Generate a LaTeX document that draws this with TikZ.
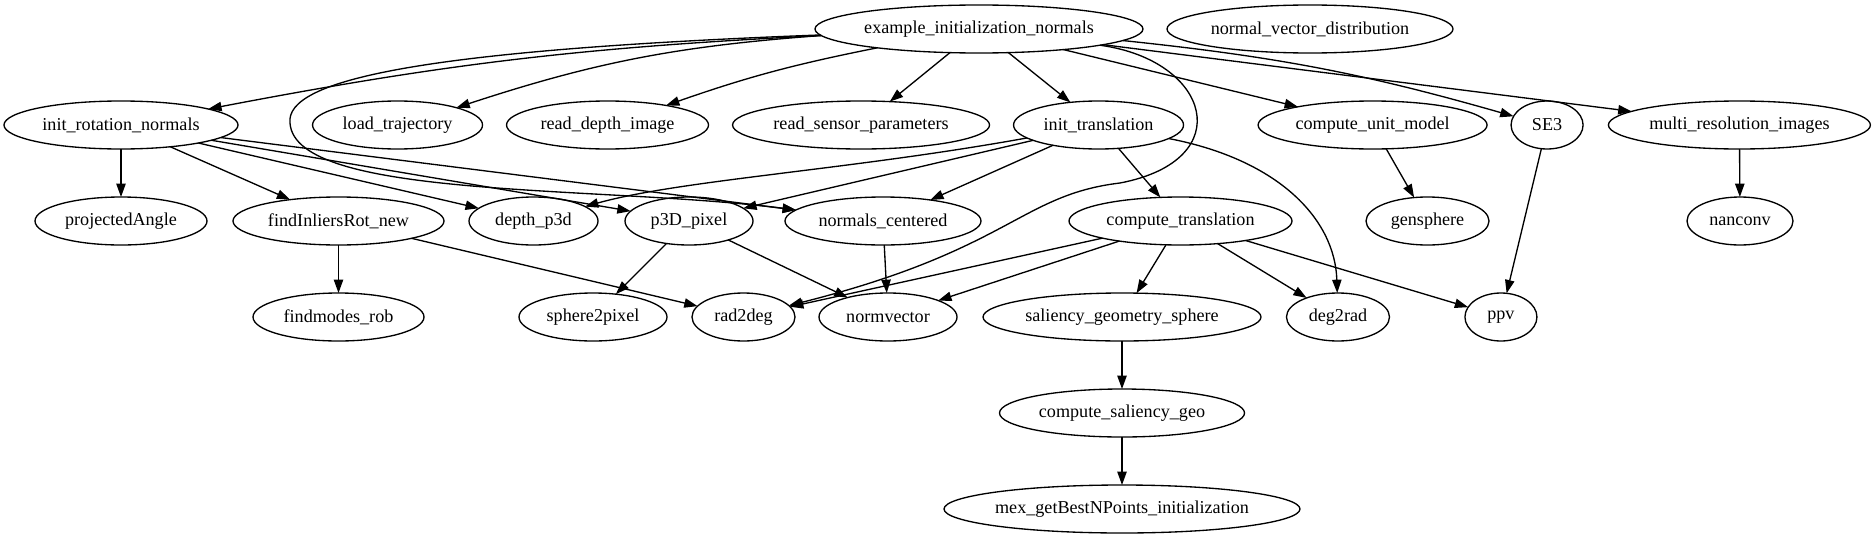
\documentclass[tikz,border=0pt]{standalone}
\usepackage{fontspec}
\setmainfont{Liberation Serif}
\usepackage{tikz}
\usetikzlibrary{arrows.meta,positioning,shapes.geometric}

\begin{document}
\begin{tikzpicture}[
    x=0.75pt, y=-0.75pt,
    node distance=36pt and 18pt,
    fn/.style={draw, ellipse, line width=1pt, inner sep=0pt, outer sep=0pt, minimum height=36pt, minimum width=#1,
      font=\fontsize{13.6pt}{16pt}\selectfont,
      execute at begin node=\hbox to 0pt\bgroup\hss, execute at end node=\hss\egroup},
    arr/.style={-{Triangle[length=10pt, width=7pt]}, line width=1pt}
]
\useasboundingbox (0,0) rectangle (1876,539);

\node[fn=246pt] (exinit) at (979,29) {example\_initialization\_normals};
\node[fn=214.5pt, right=of exinit] (nvd) {normal\_vector\_distribution};

\node[fn=175.5pt] (initrot) at (121,125) {init\_rotation\_normals};
\node[fn=127.5pt, right=55.9pt of initrot] (loadtraj) {load\_trajectory};
\node[fn=151.5pt, right=of loadtraj] (readdepth) {read\_depth\_image};
\node[fn=192.75pt, right=of readdepth] (readsensor) {read\_sensor\_parameters};
\node[fn=127.5pt, right=of readsensor] (inittrans) {init\_translation};
\node[fn=171.75pt, right=55.9pt of inittrans] (cum) {compute\_unit\_model};
\node[fn=54pt, right=of cum] (se3) {SE3};
\node[fn=196.5pt, right=19pt of se3] (mri) {multi\_resolution\_images};

\node[fn=129pt, below=of initrot] (projangle) {projectedAngle};
\node[fn=158.25pt, right=19.5pt of projangle] (findinl) {findInliersRot\_new};
\node[fn=96.75pt, right=18.75pt of findinl] (depthp3d) {depth\_p3d};
\node[fn=96pt, right=20.25pt of depthp3d] (p3dpix) {p3D\_pixel};
\node[fn=147pt, right=24pt of p3dpix] (normcent) {normals\_centered};
\node[fn=167.25pt, right=66pt of normcent] (comptrans) {compute\_translation};
\node[fn=92.25pt, right=55.5pt of comptrans] (gensphere) {gensphere};
\node[fn=79.5pt, right=148.5pt of gensphere] (nanconv) {nanconv};

\node[fn=128.25pt, below=of findinl] (findmodes) {findmodes\_rob};
\node[fn=111pt, right=71.25pt of findmodes] (sph2pix) {sphere2pixel};
\node[fn=77.25pt, right=18.75pt of sph2pix] (rad2deg) {rad2deg};
\node[fn=103.5pt, right=of rad2deg] (normvec) {normvector};
\node[fn=208.5pt, right=19.5pt of normvec] (salgeo) {saliency\_geometry\_sphere};
\node[fn=77.25pt, right=19.1pt of salgeo] (deg2rad) {deg2rad};
\node[fn=54pt, right=56.6pt of deg2rad] (ppv) {ppv};

\node[fn=183.75pt, below=of salgeo] (compsal) {compute\_saliency\_geo};
\node[fn=267pt, below=of compsal] (mex) {mex\_getBestNPoints\_initialization};

\draw[arr] (exinit) to[bend right=4] (initrot);
\draw[arr] (exinit) to[bend right=7] (loadtraj);
\draw[arr] (exinit) to[bend right=4] (readdepth);
\draw[arr] (exinit) -- (readsensor);
\draw[arr] (exinit) -- (inittrans);
\draw[arr] (exinit) -- (cum);
\draw[arr] (exinit) to[bend left=5] (se3);
\draw[arr] (exinit) -- (mri);
\draw[arr] (exinit) .. controls (420,50) and (285,80) .. (290,123) .. controls (295,200) and (600,185) .. (normcent);
\draw[arr] (exinit) .. controls (1210,60) and (1240,160) .. (1120,183) .. controls (1020,195) and (1010,250) .. (rad2deg);

\draw[arr] (initrot) -- (projangle);
\draw[arr] (initrot) -- (findinl);
\draw[arr] (initrot) -- (depthp3d);
\draw[arr] (initrot) -- (p3dpix);
\draw[arr] (initrot) -- (normcent);

\draw[arr] (inittrans) .. controls (850,170) and (680,180) .. (depthp3d);
\draw[arr] (inittrans) -- (p3dpix);
\draw[arr] (inittrans) -- (normcent);
\draw[arr] (inittrans) -- (comptrans);
\draw[arr] (inittrans) .. controls (1280,160) and (1335,220) .. (deg2rad);

\draw[arr] (cum) -- (gensphere);
\draw[arr] (se3) -- (ppv);
\draw[arr] (mri) -- (nanconv);

\draw[arr] (findinl) -- (findmodes);
\draw[arr] (findinl) -- (rad2deg);
\draw[arr] (p3dpix) -- (sph2pix);
\draw[arr] (p3dpix) -- (normvec);
\draw[arr] (normcent) -- (normvec);

\draw[arr] (comptrans) -- (rad2deg);
\draw[arr] (comptrans) -- (normvec);
\draw[arr] (comptrans) -- (salgeo);
\draw[arr] (comptrans) -- (deg2rad);
\draw[arr] (comptrans) -- (ppv);

\draw[arr] (salgeo) -- (compsal);
\draw[arr] (compsal) -- (mex);
\end{tikzpicture}
\end{document}
